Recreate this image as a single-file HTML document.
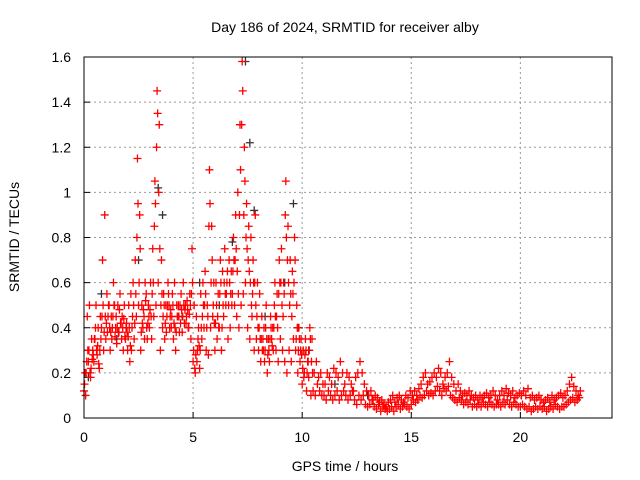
<!DOCTYPE html>
<html><head><meta charset="utf-8"><style>
body{margin:0;background:#fff;}
svg{display:block;font-family:"Liberation Sans",sans-serif;}
</style></head><body>
<svg id="chart" width="640" height="480">
<text x="345" y="32" font-size="14" text-anchor="middle">Day 186 of 2024, SRMTID for receiver alby</text>
<text x="345" y="471" font-size="14" text-anchor="middle">GPS time / hours</text>
<text transform="translate(19,237) rotate(-90)" font-size="14" text-anchor="middle">SRMTID / TECUs</text>
<g id="grid"></g><g id="ticks"></g><g id="marks"></g>
<rect x="84" y="57" width="528" height="361" fill="none" stroke="#000" stroke-width="1"/>
</svg>
<script>
const xTicks=[0,5,10,15,20];
const yTicks=[0,0.2,0.4,0.6,0.8,1,1.2,1.4,1.6];
const yTickLabels=["0","0.2","0.4","0.6","0.8","1","1.2","1.4","1.6"];
const timeStep=0.1;
const redLow=[.12,.2,.25,.18,.3,.35,.28,.22,.4,.3,
.35,.45,.3,.4,.5,.33,.38,.42,.3,.35,
.3,.25,.4,.35,.45,.5,.3,.4,.6,.35,
.4,.35,.45,.5,.6,.3,.4,.35,.45,.5,
.4,.35,.3,.45,.5,.38,.42,.45,.4,.35,
.25,.2,.3,.22,.35,.4,.3,.28,.4,.45,
.3,.35,.4,.3,.45,.5,.35,.4,.55,.5,
.45,.4,.5,.55,.6,.4,.35,.45,.3,.35,
.3,.25,.35,.3,.2,.25,.35,.4,.3,.25,
.35,.3,.25,.2,.3,.25,.35,.3,.2,.25,
.15,.2,.12,.18,.1,.12,.1,.15,.12,.1,
.1,.08,.12,.1,.08,.1,.12,.08,.1,.12,
.1,.08,.1,.12,.08,.06,.1,.08,.1,.06,
.05,.06,.08,.05,.04,.06,.03,.05,.04,.03,
.04,.05,.03,.05,.06,.04,.05,.06,.05,.04,
.06,.08,.07,.08,.1,.09,.1,.12,.1,.11,
.1,.12,.14,.12,.1,.13,.12,.14,.1,.09,
.08,.07,.09,.08,.06,.07,.06,.08,.05,.06,
.05,.06,.05,.07,.06,.05,.07,.06,.05,.06,
.06,.05,.07,.06,.08,.06,.05,.07,.06,.05,
.05,.06,.05,.04,.05,.03,.04,.05,.04,.05,
.04,.05,.03,.04,.05,.04,.06,.05,.04,.05,
.05,.06,.07,.08,.09,.07,.08,.09];
const redHigh=[.2,.45,.5,.35,.25,.5,.4,.45,.7,.9,
.55,.5,.45,.6,.4,.5,.55,.45,.5,.42,
.5,.55,.6,.7,1.15,.9,.5,.45,.55,.5,
.6,.75,1.05,1.45,1.3,.7,.55,.5,.6,.45,
.55,.6,.5,.45,.55,.6,.5,.48,.55,.75,
.5,.45,.4,.55,.6,.65,.5,1.1,.85,.6,
.6,.55,.7,.65,.75,.6,.7,.65,.8,.9,
1.0,1.3,1.58,1.2,.95,.85,.8,.7,.9,.6,
.55,.45,.4,.5,.35,.45,.4,.6,.55,.7,
.75,.6,1.05,.85,.7,.65,.8,.5,.4,.35,
.3,.35,.25,.4,.35,.2,.25,.18,.2,.15,
.15,.2,.18,.15,.22,.2,.18,.25,.2,.15,
.2,.18,.15,.12,.18,.2,.25,.2,.15,.12,
.1,.12,.08,.1,.09,.07,.08,.06,.05,.07,
.08,.1,.07,.09,.1,.08,.07,.1,.09,.12,
.1,.12,.1,.13,.15,.18,.2,.15,.16,.18,
.2,.18,.22,.2,.15,.18,.2,.25,.18,.15,
.12,.15,.12,.1,.11,.1,.12,.1,.09,.1,
.08,.1,.09,.1,.11,.09,.1,.12,.1,.08,
.1,.12,.1,.13,.11,.1,.12,.09,.1,.11,
.1,.12,.1,.13,.09,.1,.08,.09,.1,.08,
.07,.08,.09,.07,.1,.08,.09,.1,.11,.09,
.1,.12,.15,.18,.14,.12,.1,.12];
const redMidA=[.15,.25,.3,.22,.28,.4,.32,.3,.45,.38,
.42,.5,.38,.45,.36,.4,.48,.35,.44,.4,
.36,.32,.45,.42,.8,.6,.38,.48,.52,.42,
.48,.55,.85,1.2,1.0,.5,.45,.42,.5,.4,
.45,.42,.38,.5,.42,.45,.48,.52,.46,.55,
.3,.28,.35,.3,.45,.5,.4,.85,.6,.5,
.42,.45,.55,.4,.6,.55,.5,.55,.65,.7,
.65,.9,1.3,.9,.8,.7,.6,.55,.6,.45,
.4,.35,.3,.4,.28,.35,.32,.5,.45,.55,
.6,.45,.9,.7,.5,.45,.6,.35,.3,.3,
.22,.28,.2,.3,.25];
const redMidB=[.1,.3,.2,.26,.35,.3,.24,.35,.5,.45,
.38,.4,.35,.5,.45,.38,.42,.4,.36,.38,
.4,.3,.5,.55,.95,.75,.42,.35,.4,.45,
.45,.6,.95,1.35,.75,.55,.5,.38,.55,.48,
.5,.4,.45,.38,.48,.5,.42,.4,.5,.6,
.22,.25,.32,.4,.5,.55,.45,.95,.7,.42,
.5,.4,.6,.5,.55,.65,.6,.5,.7,.75,
.55,1.1,1.45,1.05,.75,.65,.5,.6,.5,.4,
.35,.3,.25,.35,.3,.4,.3,.45,.4,.6,
.5,.55,.8,.6,.55,.55,.7,.4,.35,.28,
.18,.3,.25,.35,.2];
const blackTimes=[0.2,0.8,1.5,2.5,3.4,3.6,4.5,5.3,6.2,6.8,7.4,7.6,7.8,8.3,9.2,9.6,9.8,10.3,11.5,13];
const blackValues=[.18,.55,.35,.7,1.02,.9,.45,.6,.5,.78,1.58,1.22,.92,.45,.6,.95,.4,.3,.15,.1];
const X=t=>84+t*(528/24.2), Y=v=>418-v*(361/1.6);
const ns="http://www.w3.org/2000/svg";
const grid=document.getElementById('grid'),ticks=document.getElementById('ticks'),marks=document.getElementById('marks');
function mk(tag,attrs,parent){const e=document.createElementNS(ns,tag);for(const k in attrs)e.setAttribute(k,attrs[k]);parent.appendChild(e);return e;}
xTicks.forEach(t=>{
 const g=mk('line',{x1:X(t),x2:X(t),y1:57,y2:418,stroke:'#999','stroke-dasharray':'2,3'},grid);
 
 
 mk('line',{x1:X(t),x2:X(t),y1:418,y2:412,stroke:'#000'},ticks);
 const l=mk('text',{x:X(t),y:442,'font-size':14,'text-anchor':'middle'},ticks);l.textContent=t;
 
 
});
yTicks.forEach((v,i)=>{
 const g=mk('line',{x1:84,x2:612,y1:Y(v),y2:Y(v),stroke:'#999','stroke-dasharray':'2,3'},grid);
 
 
 mk('line',{x1:84,x2:90,y1:Y(v),y2:Y(v),stroke:'#000'},ticks);
 const l=mk('text',{x:71,y:Y(v)+5,'font-size':14,'text-anchor':'end'},ticks);l.textContent=yTickLabels[i];
 
 
});
function plus(x,y,c,name){
 const p=mk('path',{d:`M${x-4},${y}h8M${x},${y-4}v8`,stroke:c,'stroke-width':1.3,fill:'none'},marks);
 
 
}
blackTimes.forEach((t,i)=>plus(X(t),Y(blackValues[i]),'#333','black-point'));
redLow.forEach((v,i)=>plus(X(i*timeStep),Y(v),'#f00','red-point'));
redHigh.forEach((v,i)=>plus(X(i*timeStep+0.05),Y(v),'#f00','red-point'));
redMidA.forEach((v,i)=>plus(X(i*timeStep+0.025),Y(v),'#f00','red-point'));
redMidB.forEach((v,i)=>plus(X(i*timeStep+0.075),Y(v),'#f00','red-point'));
</script>
</body></html>
